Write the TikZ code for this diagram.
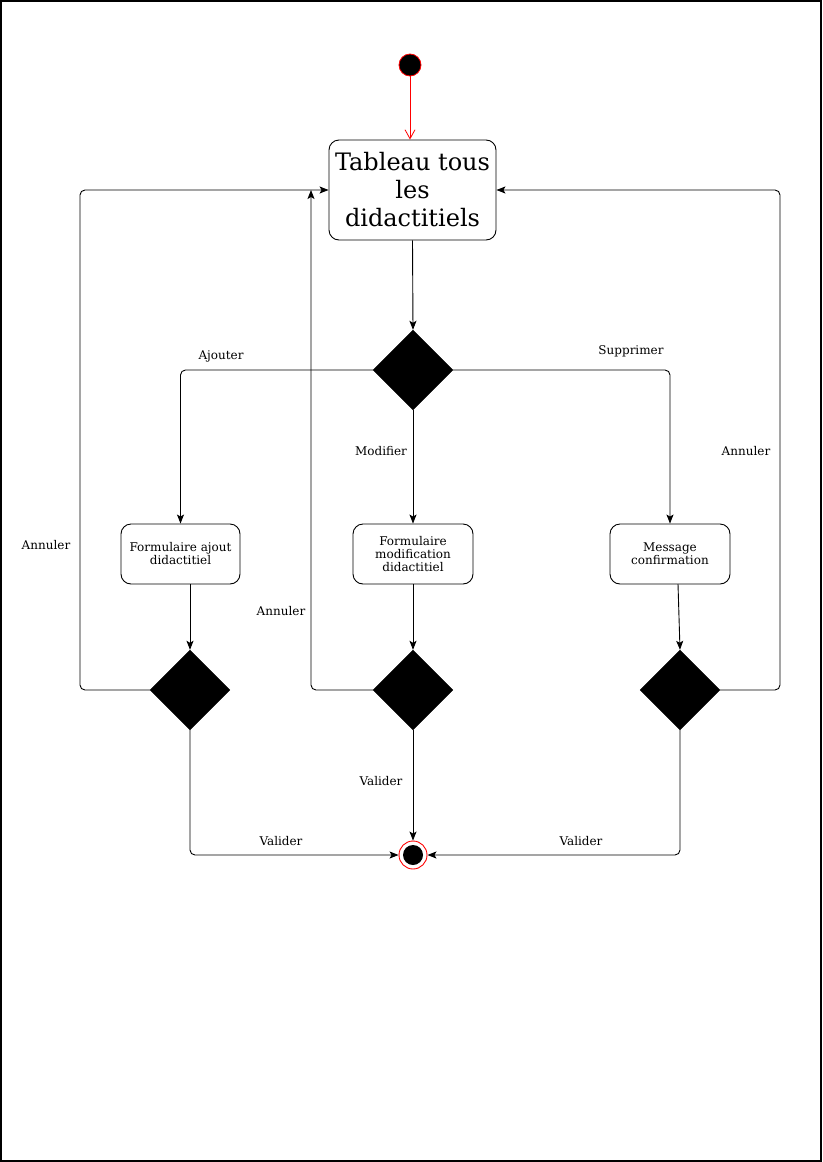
\documentclass[tikz,border=0pt]{standalone}
\usepackage{fontspec}
\setmainfont{DejaVu Serif}
\usetikzlibrary{arrows.meta,shapes.geometric}
\begin{document}
\begin{tikzpicture}[x=1pt,y=-1pt,
  state/.style={draw,rounded corners=10pt,line width=0.9pt,align=center,inner sep=0pt,font=\fontsize{12}{13}\selectfont},
  choice/.style={diamond,fill=black,draw=black,minimum width=80pt,minimum height=80pt,inner sep=0pt},
  flow/.style={draw,line width=0.9pt,rounded corners=5pt,-{Stealth[length=9pt,width=7pt,inset=2pt]}},
  lbl/.style={font=\fontsize{12}{13}\selectfont}]
  % page frame
  \useasboundingbox (0,0) rectangle (822,1162);
  \draw[line width=1.2pt] (1,1) rectangle (821,1161);

  % initial and final states
  \node[circle,fill=black,draw=red,line width=0.8pt,minimum size=22pt,inner sep=0pt] (start) at (410,65) {};
  \node[circle,draw=red,line width=0.9pt,minimum size=28pt,inner sep=0pt] (stop) at (413,855) {};
  \fill (413,855) circle (10pt);

  % states
  \node[state,minimum width=167pt,minimum height=100pt,font=\fontsize{24}{28}\selectfont] (tab) at (412.5,190) {Tableau tous\\les\\didactitiels};
  \node[state,minimum width=119pt,minimum height=60pt] (ajout) at (180.5,554) {Formulaire ajout\\didactitiel};
  \node[state,minimum width=120pt,minimum height=60pt] (modif) at (413,554) {Formulaire\\modification\\didactitiel};
  \node[state,minimum width=120pt,minimum height=60pt] (msg) at (670,554) {Message\\confirmation};

  % decisions
  \node[choice] (d0) at (413,370) {};
  \node[choice] (dA) at (190,690) {};
  \node[choice] (dM) at (413,690) {};
  \node[choice] (dS) at (680,690) {};

  % free end of the middle return path
  \coordinate (upM) at (311,190);

  % connectors
  \draw[red,line width=0.8pt,-{Straight Barb[length=9pt,width=10pt]}] (start.south) -- (start.south |- tab.north);
  \draw[flow] (tab.south) -- (d0.north);
  \draw[flow] (d0.west) -| (ajout.north);
  \draw[flow] (d0.south) -- (modif.north);
  \draw[flow] (d0.east) -| (msg.north);
  \draw[flow] (dA.north |- ajout.south) -- (dA.north);
  \draw[flow] (modif.south) -- (dM.north);
  \draw[flow] (678,584) -- (dS.north);
  \draw[flow] (dA.west) -- (80,690) -- (80,190) -- (tab.west);
  \draw[flow] (dM.west) -- (311,690) -- (upM);
  \draw[flow] (dS.east) -- (780,690) -- (780,190) -- (tab.east);
  \draw[flow] (dA.south) |- (stop.west);
  \draw[flow] (dM.south) -- (stop.north);
  \draw[flow] (dS.south) |- (stop.east);

  % labels
  \node[lbl] (lAj) at (221,356) {Ajouter};
  \node[lbl] (lSu) at (631,351) {Supprimer};
  \node[lbl] (lMo) at (381,451) {Modifier};
  \node[lbl] (lA1) at (46,545) {Annuler};
  \node[lbl] (lA2) at (281,611) {Annuler};
  \node[lbl] (lA3) at (746,451) {Annuler};
  \node[lbl] (lV1) at (281,841) {Valider};
  \node[lbl] (lV2) at (381,781) {Valider};
  \node[lbl] (lV3) at (581,841) {Valider};
\end{tikzpicture}
\end{document}
